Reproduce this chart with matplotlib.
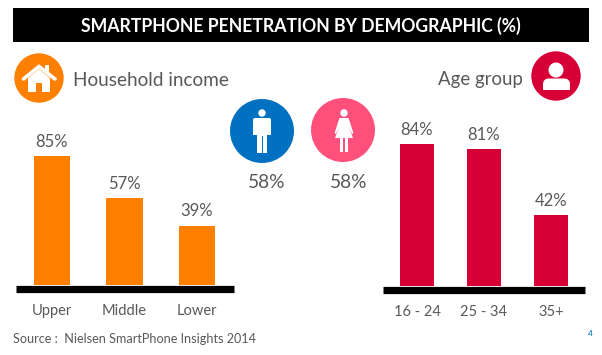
import matplotlib
matplotlib.use("Agg")
import matplotlib.pyplot as plt
from matplotlib.patches import Circle, Rectangle, Polygon, FancyBboxPatch, Ellipse

plt.rcParams['font.family'] = ['Lato', 'DejaVu Sans']

income_labels = ['Upper', 'Middle', 'Lower']
income_values = [85, 57, 39]
age_labels = ['16 - 24', '25 - 34', '35+']
age_values = [84, 81, 42]
gender_values = [58, 58]

W, H = 602, 355
GREY = '#595959'
ORANGE = '#FF8000'
RED = '#D60036'
BLUE = '#0070C0'
PINK = '#FF4F7B'

fig = plt.figure(figsize=(W/100, H/100), dpi=100, facecolor='white')
bg = fig.add_axes([0, 0, 1, 1])
bg.set_xlim(0, W); bg.set_ylim(H, 0); bg.axis('off')


def bar_panel(x0, x1, base, top, centers, bw, labels, values, color, ymax):
    ax = fig.add_axes([x0/W, 1-base/H, (x1-x0)/W, (base-top)/H])
    step = centers[1]-centers[0]
    ax.set_xlim((x0-centers[0])/step, (x1-centers[0])/step)
    ax.set_ylim(0, ymax)
    ax.patch.set_alpha(0)
    ax.bar(range(3), values, width=bw/step, color=color, linewidth=0)
    for i, v in enumerate(values):
        ax.annotate(f'{v}%', (i, v), xytext=(0, 4.5), textcoords='offset points',
                    ha='center', va='bottom', color=GREY, fontsize=12)
    for s in ['top', 'left', 'right']:
        ax.spines[s].set_visible(False)
    ax.spines['bottom'].set_position(('outward', 2.7))
    ax.spines['bottom'].set_linewidth(5.2)
    ax.spines['bottom'].set_capstyle('butt')
    ax.set_yticks([])
    ax.set_xticks(range(3), labels)
    ax.tick_params(axis='x', length=0, pad=11, labelsize=10.5, labelcolor=GREY)
    return ax


bar_panel(16, 234, 285, 133, [52, 124.5, 197], 36.5, income_labels, income_values, ORANGE, 100)
bar_panel(383, 585, 286, 117, [417, 484, 550.5], 34, age_labels, age_values, RED, 100)

# Title bar
bg.add_patch(Rectangle((13, 8), 576, 34, color='black', lw=0))
bg.text(301, 25.5, 'SMARTPHONE PENETRATION BY DEMOGRAPHIC (%)', color='white',
        fontsize=12.68, fontweight='bold', ha='center', va='center')

# Section headings
bg.text(73, 81, 'Household income', color=GREY, fontsize=13.65, ha='left', va='center')
bg.text(523, 80, 'Age group', color=GREY, fontsize=13.4, ha='right', va='center')

# House icon
bg.add_patch(Circle((39, 78), 24.7, color=ORANGE, lw=0))
bg.add_patch(Polygon([(28, 78), (28, 92), (36, 92), (36, 83), (42, 83), (42, 92), (50, 92), (50, 78), (39, 69)],
                     color='white', lw=0))
bg.plot([23.5, 39, 55], [79, 66.5, 79], color='white', lw=2.6, solid_capstyle='round', solid_joinstyle='miter')
bg.add_patch(Rectangle((45, 65), 4, 8, color='white', lw=0))

# Person icon
bg.add_patch(Circle((556, 76), 24.7, color=RED, lw=0))
bg.add_patch(Ellipse((556, 70), 15, 15, color='white', lw=0))
bg.add_patch(FancyBboxPatch((543, 78.5), 27, 11.5, boxstyle='round,pad=0,rounding_size=6', color='white', lw=0))
bg.add_patch(Rectangle((543, 85), 27, 5, color='white', lw=0))

# Male icon
bg.add_patch(Circle((262, 131), 32, color=BLUE, lw=0))
bg.add_patch(Circle((262, 113), 3.7, color='white', lw=0))
bg.add_patch(FancyBboxPatch((253, 118), 18, 4, boxstyle='round,pad=0,rounding_size=2', color='white', lw=0))
bg.add_patch(Rectangle((253, 120), 3.6, 15, color='white', lw=0))
bg.add_patch(Rectangle((267.4, 120), 3.6, 15, color='white', lw=0))
bg.add_patch(Rectangle((257.3, 120), 9.4, 16, color='white', lw=0))
bg.add_patch(Rectangle((257.3, 135), 4.2, 18, color='white', lw=0))
bg.add_patch(Rectangle((262.5, 135), 4.2, 18, color='white', lw=0))

# Female icon
bg.add_patch(Circle((343, 130), 32, color=PINK, lw=0))
bg.add_patch(Circle((344, 113), 3.7, color='white', lw=0))
bg.add_patch(Polygon([(339.5, 118), (348.5, 118), (353.5, 133), (352, 134), (348.3, 126), (353, 138), (335, 138),
                      (339.7, 126), (336, 134), (334.5, 133)], color='white', lw=0))
bg.add_patch(Rectangle((340, 137), 3.2, 15, color='white', lw=0))
bg.add_patch(Rectangle((344.8, 137), 3.2, 15, color='white', lw=0))

# Gender values
bg.text(267, 182, f'{gender_values[0]}%', color=GREY, fontsize=13.8, ha='center', va='center')
bg.text(349, 182, f'{gender_values[1]}%', color=GREY, fontsize=13.8, ha='center', va='center')

# Footer
bg.text(13, 339, 'Source :  Nielsen SmartPhone Insights 2014', color=GREY, fontsize=9.1, ha='left', va='center')
bg.text(590.5, 333.5, '4', color='#2E8BC9', fontsize=6, fontweight='bold', ha='center', va='center')

fig.savefig('out.png', dpi=100)
